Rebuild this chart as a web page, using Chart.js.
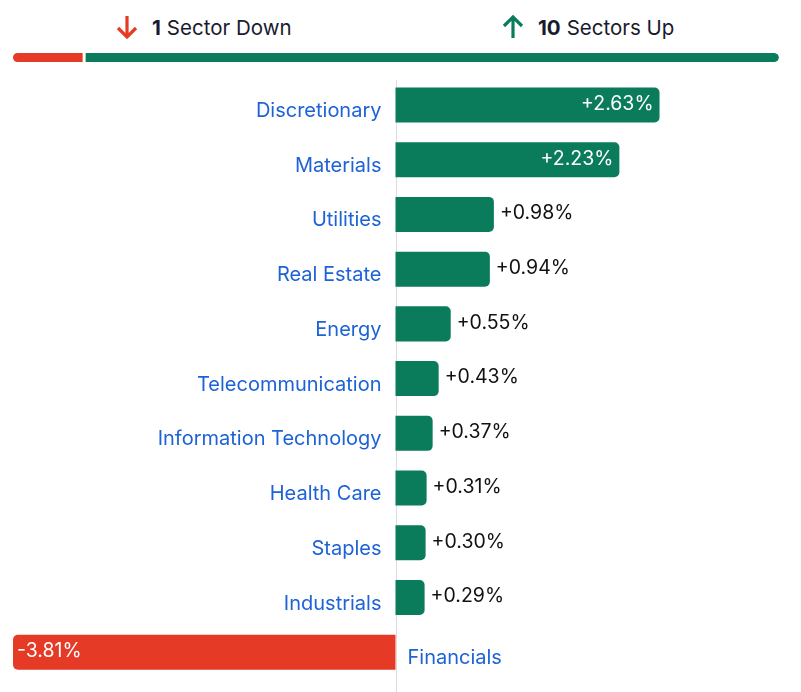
<!DOCTYPE html>
<html>
<head>
<meta charset="utf-8">
<script src="https://cdn.jsdelivr.net/npm/chart.js@4.4.0/dist/chart.umd.min.js"></script>
<style>
  html, body { margin: 0; padding: 0; background: #fff; }
  body { width: 801px; height: 692px; position: relative; overflow: hidden; font-family: Inter, 'Noto Sans', sans-serif; }
  .head { position: absolute; top: 12px; font-size: 20.5px; color: #1a1a2e; display: flex; align-items: center; height: 30px; }
  .head b { font-weight: 700; margin-right: 6px; }
  .head svg { margin-right: 13px; }
  #down { left: 115px; }
  #up { left: 501px; }
  #barWrap { position: absolute; left: 13px; top: 52px; width: 766px; height: 11px; }
  #chartWrap { position: absolute; left: 0; top: 76px; width: 801px; height: 616px; }
</style>
</head>
<body>
<div class="head" id="down">
  <svg width="24" height="26" viewBox="0 0 24 26"><path d="M12 2 V23 M3 14 L12 23 L21 14" stroke="#e53a26" stroke-width="3.2" fill="none"/></svg>
  <b id="downCount"></b><span id="downText"></span>
</div>
<div class="head" id="up">
  <svg width="24" height="26" viewBox="0 0 24 26"><path d="M12 24 V3 M3 12 L12 3 L21 12" stroke="#0a7c5c" stroke-width="3.2" fill="none"/></svg>
  <b id="upCount"></b><span id="upText"></span>
</div>
<div id="barWrap"><canvas id="countChart"></canvas></div>
<div id="chartWrap"><canvas id="sectorChart"></canvas></div>
<script>
// sectores y variación diaria (%)
const sectors = ['Discretionary', 'Materials', 'Utilities', 'Real Estate', 'Energy', 'Telecommunication',
  'Information Technology', 'Health Care', 'Staples', 'Industrials', 'Financials'];
const changes = [2.63, 2.23, 0.98, 0.94, 0.55, 0.43, 0.37, 0.31, 0.30, 0.29, -3.81];
const downCount = [1];
const upCount = [10];

const GREEN = '#0a7c5c';
const RED = '#e53a26';
const BLUE = '#1d62d6';
const FONT = 'Inter, "Noto Sans", sans-serif';

document.getElementById('downCount').textContent = downCount[0];
document.getElementById('downText').textContent = downCount[0] === 1 ? 'Sector Down' : 'Sectors Down';
document.getElementById('upCount').textContent = upCount[0];
document.getElementById('upText').textContent = upCount[0] === 1 ? 'Sector Up' : 'Sectors Up';

// barra de conteo arriba
new Chart(document.getElementById('countChart'), {
  type: 'bar',
  data: {
    labels: [''],
    datasets: [
      { data: downCount, backgroundColor: RED, borderSkipped: false,
        borderRadius: { topLeft: 5, bottomLeft: 5, topRight: 0, bottomRight: 0 } },
      { data: upCount, backgroundColor: GREEN, borderSkipped: false, borderColor: '#fff',
        borderWidth: { left: 3, right: 0, top: 0, bottom: 0 },
        borderRadius: { topLeft: 0, bottomLeft: 0, topRight: 5, bottomRight: 5 } }
    ]
  },
  options: {
    indexAxis: 'y',
    responsive: true,
    maintainAspectRatio: false,
    animation: { duration: 0 },
    layout: { padding: 0 },
    plugins: { legend: { display: false }, tooltip: { enabled: false } },
    scales: {
      x: { stacked: true, display: false, min: 0, max: downCount[0] + upCount[0] },
      y: { stacked: true, display: false }
    },
    datasets: { bar: { categoryPercentage: 1, barPercentage: 0.82 } }
  }
});

// etiquetas de sector, valores y línea del cero
const labelPlugin = {
  id: 'sectorLabels',
  beforeDatasetsDraw(chart) {
    const { ctx, scales: { x } } = chart;
    const x0 = Math.round(x.getPixelForValue(0)) + 0.5;
    ctx.save();
    ctx.strokeStyle = '#dcdcdc';
    ctx.lineWidth = 1;
    ctx.beginPath();
    ctx.moveTo(x0, 4);
    ctx.lineTo(x0, chart.height);
    ctx.stroke();
    ctx.restore();
  },
  afterDatasetsDraw(chart) {
    const { ctx, scales: { x } } = chart;
    const meta = chart.getDatasetMeta(0);
    const x0 = x.getPixelForValue(0);
    ctx.save();
    ctx.textBaseline = 'middle';
    meta.data.forEach((bar, i) => {
      const v = changes[i];
      // nombre del sector
      ctx.font = '20px ' + FONT;
      ctx.fillStyle = BLUE;
      if (v >= 0) {
        ctx.textAlign = 'right';
        ctx.fillText(sectors[i], x0 - 14, bar.y + 6);
      } else {
        ctx.textAlign = 'left';
        ctx.fillText(sectors[i], x0 + 12, bar.y + 6);
      }
      // valor
      const txt = (v > 0 ? '+' : '') + v.toFixed(2) + '%';
      ctx.font = '19.5px ' + FONT;
      const inside = Math.abs(v) >= 2;
      if (v >= 0) {
        if (inside) {
          ctx.fillStyle = '#fff';
          ctx.textAlign = 'right';
          ctx.fillText(txt, bar.x - 6, bar.y - 1);
        } else {
          ctx.fillStyle = '#111';
          ctx.textAlign = 'left';
          ctx.fillText(txt, bar.x + 6, bar.y - 1);
        }
      } else {
        ctx.fillStyle = '#fff';
        ctx.textAlign = 'left';
        ctx.fillText(txt, bar.x + 4, bar.y - 1);
      }
    });
    ctx.restore();
  }
};

new Chart(document.getElementById('sectorChart'), {
  type: 'bar',
  data: {
    labels: sectors,
    datasets: [{
      data: changes,
      backgroundColor: changes.map(v => v >= 0 ? GREEN : RED),
      borderRadius: 5,
      borderSkipped: 'start',
      categoryPercentage: 0.64,
      barPercentage: 1
    }]
  },
  options: {
    indexAxis: 'y',
    responsive: true,
    maintainAspectRatio: false,
    animation: { duration: 0 },
    layout: { padding: { left: 13, right: 23, top: 1.6, bottom: 12.4 } },
    plugins: { legend: { display: false }, tooltip: { enabled: false } },
    scales: {
      x: { display: false, min: -3.81, max: 3.81 },
      y: { display: false }
    }
  },
  plugins: [labelPlugin]
});
</script>
</body>
</html>
